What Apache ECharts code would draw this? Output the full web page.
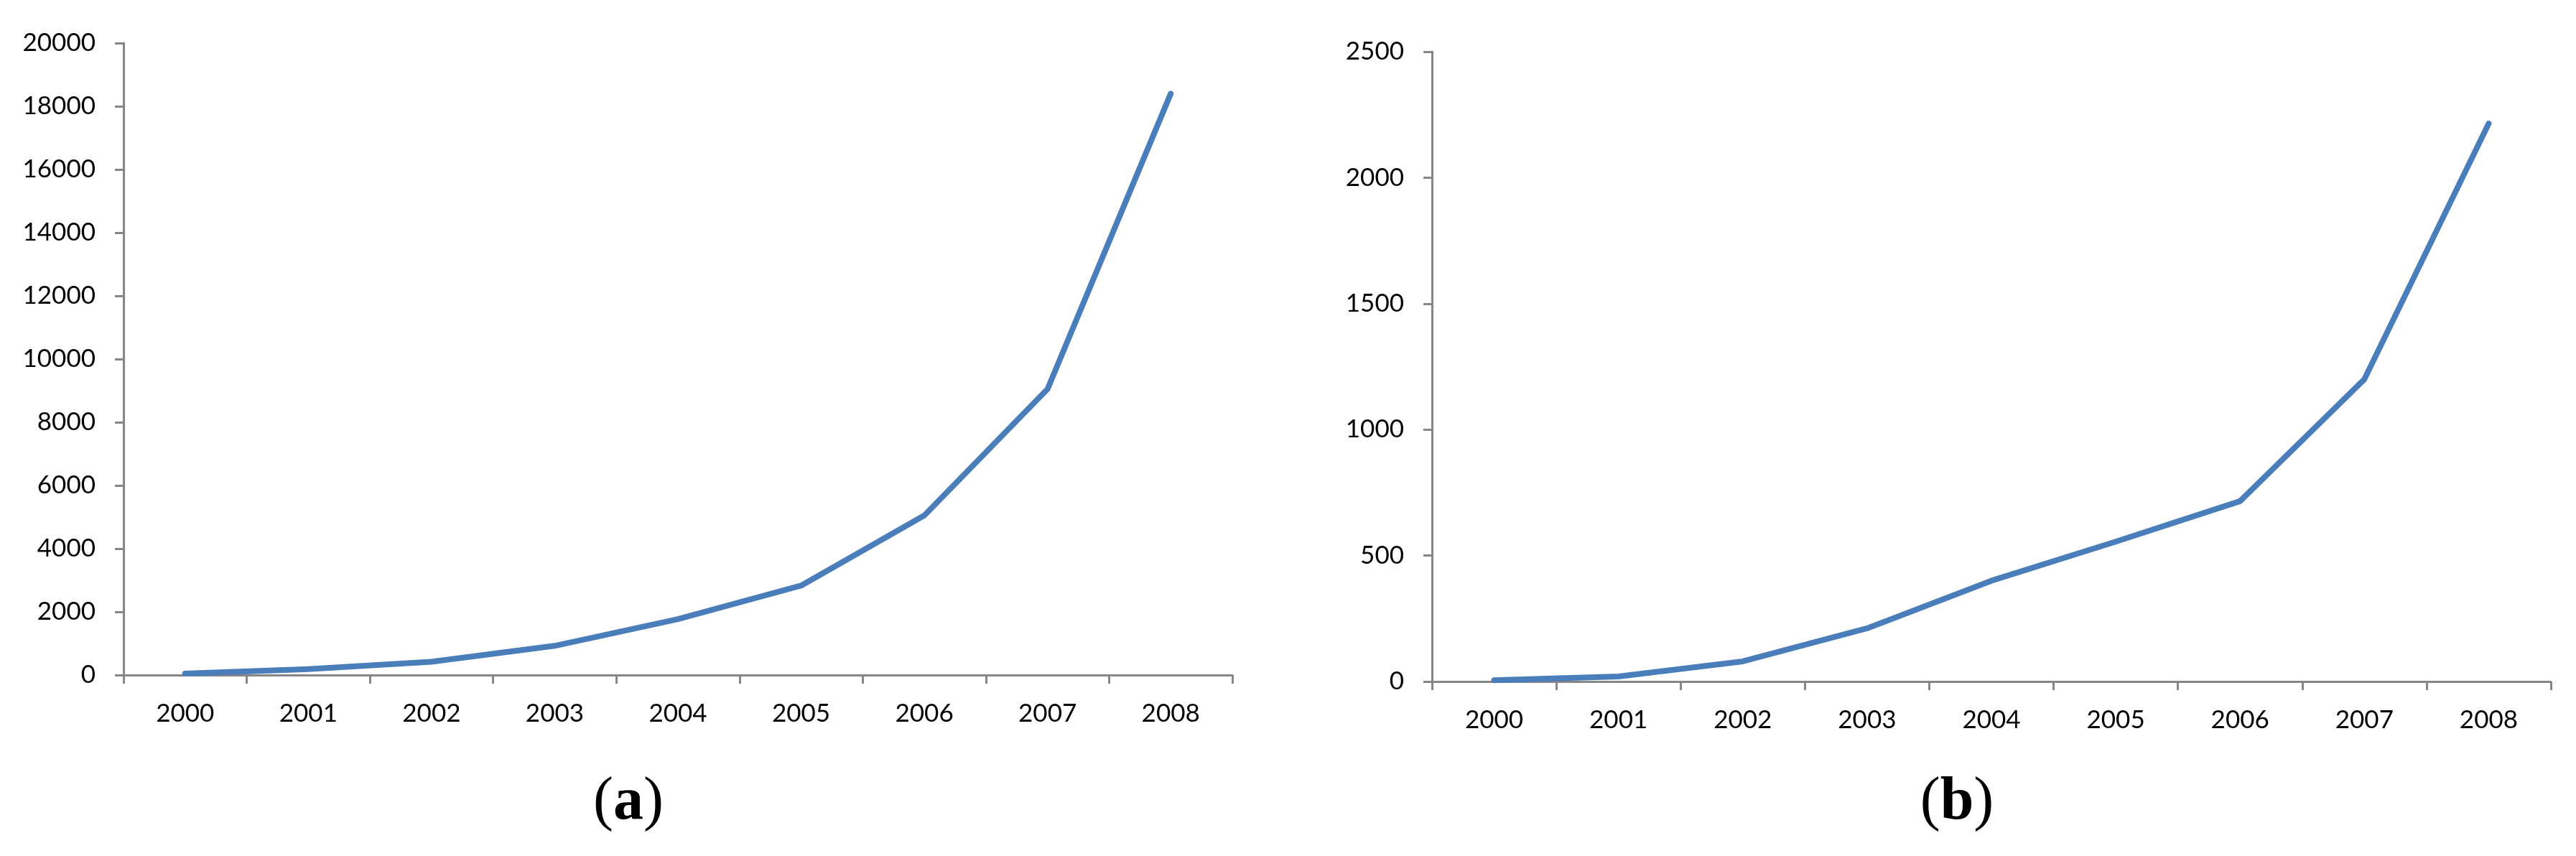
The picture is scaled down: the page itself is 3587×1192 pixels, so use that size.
<!DOCTYPE html>
<html>
<head>
<meta charset="utf-8">
<script src="https://cdn.jsdelivr.net/npm/echarts@6/dist/echarts.min.js"></script>
<style>
html,body{margin:0;padding:0;background:#fff;}
#chart{width:3587px;height:1192px;}
</style>
</head>
<body>
<div id="chart"></div>
<script>
const years = ['2000','2001','2002','2003','2004','2005','2006','2007','2008'];
const valuesA = [45, 190, 420, 925, 1770, 2830, 5050, 9050, 18400];
const valuesB = [5, 20, 80, 211, 400, 555, 716, 1200, 2215];
const yMaxA = 20000, yStepA = 2000;
const yMaxB = 2500, yStepB = 500;
const panelLabels = ['a', 'b'];

const axisGray = '#868686';
const lineBlue = '#4a7ebb';
const labelFont = 'Lato';

function xAxis(gridIndex) {
  return {
    type: 'category', gridIndex, data: years, boundaryGap: true,
    axisLine: {show: true, lineStyle: {color: axisGray, width: 3}},
    axisTick: {show: true, length: 12, lineStyle: {color: axisGray, width: 3}},
    axisLabel: {color: '#000', fontFamily: labelFont, fontSize: 35, margin: 36},
    splitLine: {show: false}
  };
}
function yAxis(gridIndex, max, step) {
  return {
    type: 'value', gridIndex, min: 0, max: max, interval: step,
    axisLine: {show: true, lineStyle: {color: axisGray, width: 3}},
    axisTick: {show: true, length: 12, lineStyle: {color: axisGray, width: 3}},
    axisLabel: {color: '#000', fontFamily: labelFont, fontSize: 35, margin: 39,
      formatter: function (v) { return String(v); }},
    splitLine: {show: false}
  };
}
function series(idx, data) {
  return {
    type: 'line', xAxisIndex: idx, yAxisIndex: idx, data: data,
    showSymbol: false, symbol: 'none', smooth: false,
    lineStyle: {color: lineBlue, width: 8, cap: 'round', join: 'round'},
    itemStyle: {color: lineBlue}, animation: false
  };
}
function panelText(x, letter) {
  return {
    type: 'text', x: x, y: 1118,
    style: {
      text: '{p|(}{b|' + letter + '}{p|)}',
      align: 'center', verticalAlign: 'middle',
      rich: {
        p: {fontFamily: 'Liberation Serif', fontSize: 84, fontWeight: 'normal', fill: '#000'},
        b: {fontFamily: 'Liberation Serif', fontSize: 84, fontWeight: 'bold', fill: '#000'}
      }
    }
  };
}

const chart = echarts.init(document.getElementById('chart'), null, {renderer: 'canvas'});
chart.setOption({
  backgroundColor: '#fff',
  animation: false,
  grid: [
    {left: 172, top: 60, width: 1544, height: 880},
    {left: 1994, top: 72, width: 1558, height: 877}
  ],
  xAxis: [xAxis(0), xAxis(1)],
  yAxis: [yAxis(0, yMaxA, yStepA), yAxis(1, yMaxB, yStepB)],
  series: [series(0, valuesA), series(1, valuesB)],
  graphic: [panelText(875, panelLabels[0]), panelText(2725, panelLabels[1])]
});
</script>
</body>
</html>
